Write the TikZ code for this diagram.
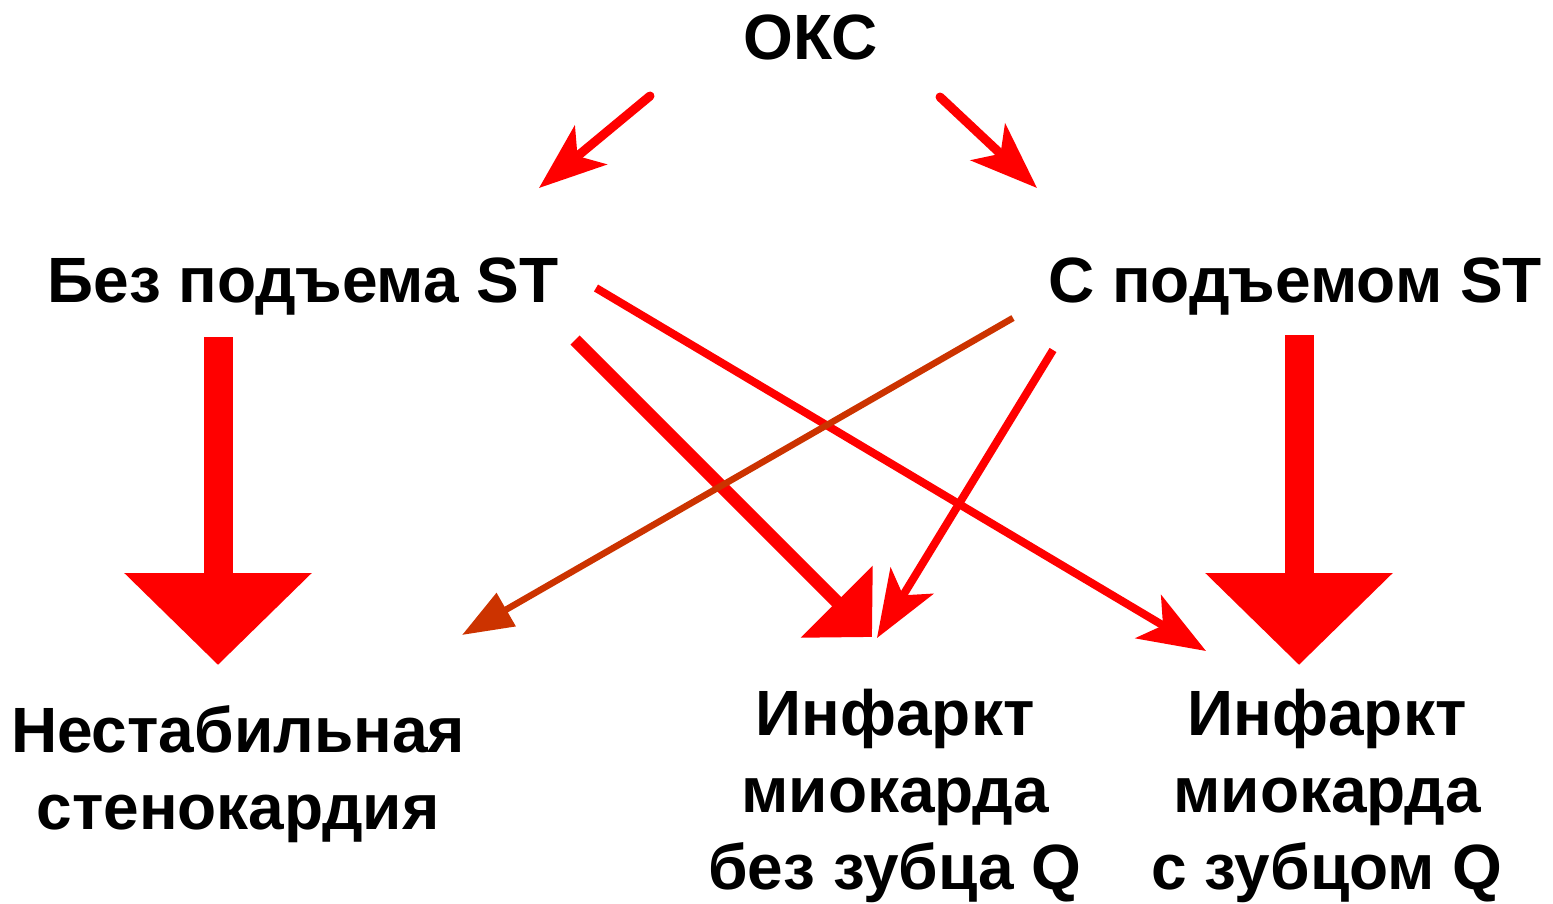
\documentclass[tikz,border=0pt]{standalone}
\usepackage{fontspec}
\setmainfont{Liberation Sans}
\usetikzlibrary{arrows.meta}
\definecolor{ared}{HTML}{FF0000}
\definecolor{aorange}{HTML}{CC3300}
\tikzset{
  lbl/.style={font=\fontsize{64}{77}\selectfont\bfseries, inner sep=0pt, align=center, anchor=base},
  thinarr/.style={draw=ared, line width=8pt, -{Stealth[length=67pt,width=50pt,inset=17pt]}},
  blockarr/.style={draw=ared, line width=29pt, -{Triangle[length=92pt,width=182pt]}},
  thickarr/.style={draw=ared, line width=13pt, -{Triangle[length=50pt,width=99pt]}},
  orangearr/.style={draw=aorange, line width=6.5pt, -{Triangle[length=51pt,width=37pt]}}
}
\begin{document}
\begin{tikzpicture}[x=1pt,y=-1pt]
\useasboundingbox (0,0) rectangle (1553,904);
% labels
\node[lbl] (okc)  at (811,60)  {ОКС};
\node[lbl] (bez)  at (303,302) {Без подъема ST};
\node[lbl] (spod) at (1295,302) {С подъемом ST};
\node[lbl] (nest) at (238,829) {Нестабильная\\стенокардия};
\node[lbl] (imbq) at (895,889) {Инфаркт\\миокарда\\без зубца Q};
\node[lbl] (imsq) at (1327,889) {Инфаркт\\миокарда\\с зубцом Q};
% connector end points
\coordinate (a1s) at (650,96);   \coordinate (a1e) at (539,188);
\coordinate (a2s) at (940,97);   \coordinate (a2e) at (1037,188);
\coordinate (a3s) at (218,337);  \coordinate (a3e) at (218,665);
\coordinate (a4s) at (1299,335); \coordinate (a4e) at (1299,665);
\coordinate (a5s) at (575,340);  \coordinate (a5e) at (872,637);
\coordinate (a6s) at (596,288);  \coordinate (a6e) at (1206,651);
\coordinate (a7s) at (1013,318); \coordinate (a7e) at (462,635);
\coordinate (a8s) at (1053,350); \coordinate (a8e) at (877,638);
% connectors
\draw[thinarr, line width=9pt, line cap=round] (a1s) -- (a1e);
\draw[thinarr, line width=9pt, line cap=round] (a2s) -- (a2e);
\draw[blockarr] (a3s) -- (a3e);
\draw[blockarr] (a4s) -- (a4e);
\draw[thickarr] (a5s) -- (a5e);
\draw[thinarr] (a6s) -- (a6e);
\draw[orangearr] (a7s) -- (a7e);
\draw[thinarr] (a8s) -- (a8e);
\end{tikzpicture}
\end{document}
